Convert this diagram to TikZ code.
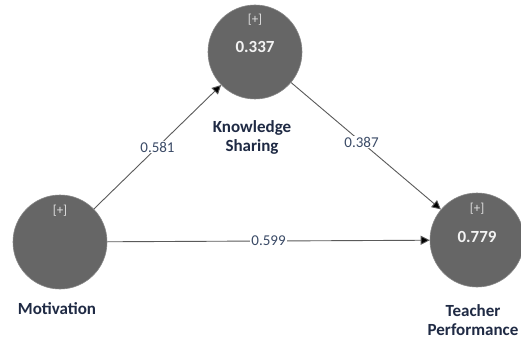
\documentclass[tikz,border=0pt]{standalone}
\usepackage{fontspec}
\setmainfont{Carlito}
\usetikzlibrary{arrows.meta}
\definecolor{lv}{HTML}{666666}
\definecolor{edge}{HTML}{5A5A5A}
\definecolor{lbl}{HTML}{1F2A44}
\definecolor{num}{HTML}{3A4A66}
\tikzset{
  latent/.style={circle, fill=lv, draw=lv!80, line width=0.6pt, minimum size=94pt, inner sep=0pt},
  plussign/.style={text=white!80!lv, font=\fontsize{13}{13}\selectfont},
  rval/.style={text=white!92!lv, font=\fontsize{17}{17}\selectfont\bfseries},
  lvlabel/.style={text=lbl, font=\fontsize{17}{19}\selectfont\bfseries, align=center, inner sep=0pt},
  pathedge/.style={draw=edge, line width=0.9pt, -{Triangle[length=9pt,width=9pt,fill=black]}},
  coef/.style={fill=white, text=num, font=\fontsize{15}{15}\selectfont, inner sep=1pt}
}
\begin{document}
\begin{tikzpicture}[x=1pt,y=-1pt]
\useasboundingbox[fill=white] (0,0) rectangle (521,339);
\node[latent] (ks) at (255,52) {};
\node[latent] (mo) at (60,242) {};
\node[latent] (tp) at (477,240) {};
\node[plussign] (ksp) at (255,20) {[+]};
\node[rval] (ksr) at (255,47) {0.337};
\node[plussign] (mop) at (60,211) {[+]};
\node[plussign] (tpp) at (477,209) {[+]};
\node[rval] (tpr) at (477,237) {0.779};
\node[lvlabel] (ksn) at (252,137) {Knowledge\\Sharing};
\node[lvlabel] (mon) at (57,309) {Motivation};
\node[lvlabel] (tpn) at (473,320) {Teacher\\Performance};
\path[pathedge] (mo) -- node[coef] {0.581} (ks);
\path[pathedge] (ks) -- node[coef, pos=0.47] {0.387} (tp);
\path[pathedge] (mo) -- node[coef, pos=0.5] {0.599} (tp);
\end{tikzpicture}
\end{document}
